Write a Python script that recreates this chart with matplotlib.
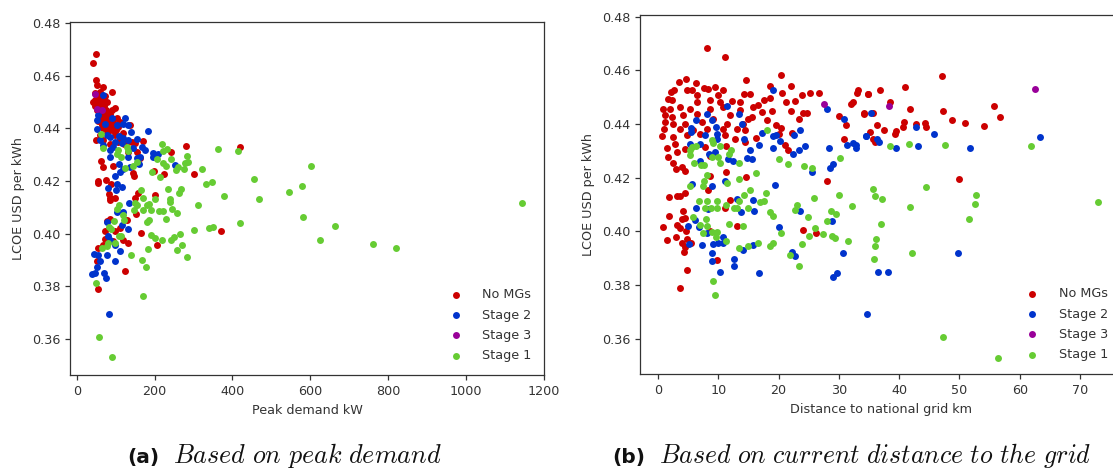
import matplotlib

matplotlib.use("Agg")
import matplotlib.pyplot as plt
import numpy as np

STAGE_LABELS = ["No MGs", "Stage 2", "Stage 3", "Stage 1"]
STAGE_COLORS = ["#cc0000", "#0033cc", "#990099", "#66cc33"]

# (peak demand kW, LCOE USD per kWh)
peak_no_mgs = [
    (49.3, .4682), (41.6, .4650), (49.3, .4584), (52.7, .4565), (68.1, .4557), (89.6, .4540), (46.7, .4534), (59.6, .4540),
    (63.9, .4518), (42.4, .4502), (76.7, .4502), (55.3, .4496), (68.1, .4477), (99.0, .4479), (59.6, .4464), (76.7, .4458),
    (81.0, .4439), (104.1, .4441), (63.9, .4426), (85.3, .4420), (68.1, .4401), (89.6, .4394), (49.3, .4356), (68.1, .4356),
    (98.1, .4375), (136.7, .4413), (170.9, .4352), (119.5, .4382), (76.7, .4382), (141.0, .4350), (242.0, .4312), (279.7, .4334),
    (420.2, .4331), (162.4, .4287), (61.3, .4276), (66.4, .4252), (93.8, .4257), (145.2, .4232), (147.8, .4221), (198.3, .4238),
    (224.0, .4226), (300.3, .4228), (53.6, .4200), (55.3, .4194), (74.1, .4205), (87.0, .4189), (81.8, .4150), (85.3, .4134),
    (98.1, .4134), (149.5, .4134), (158.1, .4153), (201.8, .4145), (51.0, .4470), (46.7, .4496), (55.3, .4515), (68.1, .4508),
    (72.4, .4445), (93.8, .4407), (59.6, .4445), (81.0, .4407), (128.1, .4344), (106.7, .4350), (153.8, .4312), (132.4, .4312),
    (52.0, .4520), (58.0, .4530), (50.0, .4505), (62.0, .4490), (70.0, .4485), (75.0, .4470), (48.0, .4485), (54.0, .4475),
    (65.0, .4460), (85.0, .4455), (92.0, .4425), (110.0, .4425), (65.0, .4415), (75.0, .4430), (55.0, .4430), (80.0, .4390),
    (100.0, .4395), (85.3, .4126), (152.1, .4075), (85.3, .4055), (76.7, .4046), (128.1, .4050), (111.0, .4020), (72.4, .4009),
    (164.9, .4003), (72.4, .3980), (98.1, .4008), (119.5, .3976), (132.4, .3966), (55.3, .3944), (68.1, .3957), (206.0, .3955),
    (371.3, .4009), (52.7, .3894), (123.8, .3857), (54.4, .3788), (93.8, .3970), (62.0, .4450), (90.0, .4470), (72.0, .4400),
    (105.0, .4405), (120.0, .4340), (60.0, .4375), (150.0, .4345), (48.0, .4510), (72.0, .4525), (110.0, .4360), (85.0, .4340),
]
peak_stage2 = [
    (66.4, .4526), (53.6, .4450), (52.7, .4432), (51.9, .4398), (71.6, .4416), (91.3, .4439), (123.8, .4439), (102.4, .4413),
    (117.8, .4416), (132.4, .4415), (140.1, .4387), (183.8, .4392), (85.3, .4367), (109.3, .4372), (119.5, .4363), (132.4, .4357),
    (155.5, .4358), (166.6, .4331), (175.2, .4318), (145.2, .4325), (115.3, .4344), (98.1, .4350), (76.7, .4375), (59.6, .4356),
    (68.1, .4337), (85.3, .4318), (93.8, .4331), (85.3, .4293), (132.4, .4293), (162.4, .4293), (159.8, .4266), (153.8, .4287),
    (109.3, .4265), (136.7, .4255), (119.5, .4245), (111.0, .4236), (98.1, .4219), (194.9, .4308), (209.5, .4303), (196.6, .4293),
    (252.3, .4261), (104.1, .4188), (115.3, .4176), (100.7, .4166), (79.3, .4173), (134.1, .4118), (102.4, .4084), (119.5, .4084),
    (115.3, .4033), (132.4, .4017), (76.7, .4043), (79.3, .3989), (85.3, .3976), (98.1, .3957), (111.0, .3933), (76.7, .3918),
    (44.2, .3923), (55.3, .3919), (59.6, .3894), (51.0, .3871), (98.1, .3896), (69.9, .3849), (74.1, .3830), (46.7, .3849),
    (39.9, .3846), (83.6, .3693),
]
peak_stage3 = [(45.9, .4530), (51.0, .4474), (65.6, .4469)]
peak_stage1 = [
    (218.9, .4340), (222.3, .4316), (230.9, .4321), (282.3, .4297), (286.6, .4274), (278.0, .4270), (241.2, .4282), (206.9, .4282),
    (220.6, .4270), (229.2, .4258), (260.9, .4255), (254.9, .4242), (275.4, .4246), (322.5, .4246), (363.6, .4322), (415.0, .4316),
    (602.6, .4256), (192.3, .4236), (213.8, .4217), (454.4, .4209), (332.0, .4188), (346.5, .4195), (577.7, .4180), (545.2, .4159),
    (378.2, .4143), (467.3, .4133), (233.5, .4169), (268.6, .4169), (263.4, .4156), (164.1, .4165), (169.2, .4137), (201.8, .4131),
    (240.3, .4133), (62.2, .4378), (66.4, .4326), (106.7, .4318), (113.5, .4290), (102.4, .4303), (128.1, .4331), (132.4, .4316),
    (155.5, .4273), (145.2, .4258), (123.8, .4250), (239.4, .4122), (312.3, .4108), (107.5, .4109), (104.1, .4093), (149.5, .4115),
    (155.5, .4109), (146.9, .4088), (169.2, .4088), (181.2, .4109), (186.3, .4113), (190.6, .4088), (211.2, .4086), (220.6, .4086),
    (243.7, .4094), (258.3, .4080), (229.2, .4056), (185.5, .4050), (181.2, .4045), (119.5, .4071), (121.2, .4052), (95.6, .4046),
    (83.6, .4024), (87.0, .4018), (418.5, .4039), (582.0, .4063), (302.0, .4014), (338.8, .4020), (349.0, .4024), (266.0, .3999),
    (250.6, .3988), (241.2, .3976), (218.9, .3974), (201.8, .3985), (189.8, .3995), (113.5, .3989), (109.3, .3991), (98.1, .3963),
    (79.3, .3963), (76.7, .3951), (63.9, .3944), (270.3, .3958), (258.3, .3937), (183.8, .3943), (282.3, .3911), (140.1, .3919),
    (167.5, .3898), (177.8, .3871), (49.3, .3813), (170.1, .3762), (57.0, .3606), (91.3, .3529), (1145.0, .4118), (820.0, .3945),
    (760.0, .3960), (663.0, .4027), (625.0, .3975),
]

# (distance to national grid km, LCOE USD per kWh)
dist_no_mgs = [
    (8.18, .4683), (11.06, .4651), (4.64, .4566), (3.48, .4556), (6.25, .4552), (14.6, .4562), (20.4, .4584), (18.5, .4541),
    (22.0, .4541), (20.6, .4516), (25.2, .4515), (26.7, .4516), (23.8, .4508), (22.7, .4487), (21.2, .4482), (14.3, .4512),
    (15.3, .4510), (13.6, .4480), (12.2, .4486), (10.8, .4526), (9.4, .4538), (8.35, .4532), (7.63, .4535), (2.71, .4528),
    (2.1, .4520), (4.75, .4526), (5.58, .4526), (6.41, .4507), (10.0, .4507), (10.3, .4482), (1.6, .4493), (2.27, .4488),
    (6.41, .4482), (8.62, .4488), (17.5, .4491), (16.6, .4472), (18.5, .4498), (15.8, .4463), (17.2, .4445), (18.85, .4450),
    (22.06, .4448), (24.1, .4442), (24.65, .4442), (.77, .4457), (2.0, .4457), (3.65, .4463), (5.3, .4457), (8.62, .4457),
    (10.84, .4463), (1.16, .4432), (2.27, .4426), (4.2, .4432), (6.41, .4438), (9.18, .4420), (11.94, .4432), (13.6, .4451),
    (15.5, .4426), (15.0, .4420), (18.0, .4414), (23.3, .4417), (1.16, .4407), (2.54, .4401), (4.48, .4401), (7.24, .4407),
    (11.4, .4401), (14.15, .4401), (19.5, .4397), (20.35, .4385), (1.05, .4382), (3.65, .4382), (5.86, .4376), (8.07, .4382),
    (10.84, .4382), (13.05, .4382), (14.4, .4376), (.72, .4356), (2.54, .4351), (4.75, .4357), (6.97, .4364), (11.1, .4357),
    (12.8, .4345), (16.2, .4347), (20.0, .4364), (22.3, .4367), (14.4, .4332), (1.55, .4312), (2.82, .4326), (4.48, .4307),
    (7.8, .4314), (11.3, .4316), (21.06, .4320), (21.6, .4301), (3.1, .4295), (1.71, .4276), (2.54, .4254), (2.93, .4231),
    (3.9, .4239), (4.48, .4226), (8.62, .4279), (11.2, .4221), (14.6, .4203), (8.62, .4205), (8.35, .4155), (30.07, .4429),
    (31.2, .4395), (30.85, .4345), (33.1, .4526), (32.95, .4516), (32.3, .4482), (31.95, .4476), (34.2, .4440), (34.8, .4512),
    (28.1, .4188), (1.77, .4127), (3.1, .4133), (3.65, .4133), (4.48, .4142), (11.94, .4118), (11.1, .4085), (4.15, .4074),
    (1.88, .4057), (4.48, .4049), (3.93, .4045), (3.1, .4023), (3.65, .4014), (.88, .4017), (4.59, .4002), (8.62, .4002),
    (13.16, .4021), (1.55, .3966), (2.93, .3978), (4.75, .3973), (4.04, .3956), (5.42, .3956), (4.48, .3942), (4.37, .3923),
    (9.84, .3893), (4.81, .3856), (3.65, .3787), (24.1, .4006), (26.2, .3993), (47.15, .4577), (41.0, .4537), (36.8, .4526),
    (34.9, .4512), (38.4, .4480), (41.85, .4457), (47.3, .4450), (55.8, .4468), (56.8, .4425), (48.8, .4413), (51.0, .4402),
    (54.1, .4391), (40.85, .4406), (40.7, .4389), (42.8, .4401), (44.2, .4403), (44.4, .4389), (36.4, .4395), (37.5, .4377),
    (39.4, .4375), (39.25, .4362), (35.2, .4370), (34.2, .4438), (35.6, .4442), (35.6, .4345), (36.0, .4332), (50.0, .4195),
]
dist_stage2 = [
    (19.1, .4527), (11.5, .4468), (8.07, .4438), (6.25, .4414), (8.9, .4416), (13.5, .4437), (14.0, .4399), (5.42, .4386),
    (5.47, .4370), (9.6, .4389), (9.73, .4364), (7.8, .4359), (9.73, .4345), (14.3, .4345), (17.2, .4367), (19.0, .4354),
    (19.57, .4360), (22.6, .4360), (23.5, .4377), (28.0, .4455), (30.85, .4417), (20.2, .4335), (16.7, .4322), (15.26, .4304),
    (19.1, .4310), (24.4, .4316), (23.4, .4301), (22.4, .4289), (28.3, .4309), (31.3, .4322), (32.3, .4329), (32.8, .4320),
    (32.8, .4309), (34.55, .4356), (5.3, .4326), (6.97, .4326), (8.5, .4289), (9.45, .4295), (11.66, .4268), (12.5, .4261),
    (14.7, .4273), (15.5, .4268), (6.97, .4261), (29.08, .4250), (28.5, .4236), (25.54, .4220), (19.4, .4173), (8.96, .4168),
    (11.1, .4189), (5.6, .4177), (13.05, .4120), (15.75, .4115), (13.8, .4072), (15.9, .4075), (6.25, .4087), (8.35, .4083),
    (6.08, .4042), (5.03, .4021), (6.86, .4017), (8.07, .3993), (20.07, .4017), (23.55, .4074), (28.9, .4039), (30.74, .3920),
    (22.3, .3923), (22.67, .3908), (5.14, .3952), (7.24, .3948), (9.18, .3954), (10.0, .3958), (10.84, .3977), (10.84, .3958),
    (14.15, .3932), (15.7, .3947), (9.0, .3918), (9.0, .3890), (12.55, .3897), (12.55, .3871), (10.3, .3850), (16.7, .3846),
    (29.7, .3846), (29.1, .3831), (34.66, .3693), (35.4, .4440), (42.8, .4389), (45.7, .4362), (34.55, .4355), (36.26, .4344),
    (36.65, .4334), (39.5, .4311), (43.1, .4319), (51.8, .4311), (63.4, .4351), (49.7, .3918), (36.5, .3850), (38.1, .3850),
]
dist_stage3 = [(27.5, .4475), (38.25, .4468), (62.6, .4529)]
dist_stage1 = [
    (18.0, .4377), (8.9, .4341), (9.07, .4329), (5.7, .4315), (6.25, .4316), (10.3, .4316), (12.1, .4301), (11.8, .4289),
    (5.3, .4301), (5.3, .4283), (6.0, .4256), (8.9, .4275), (10.0, .4276), (10.3, .4254), (13.5, .4256), (7.13, .4246),
    (7.7, .4246), (20.0, .4268), (21.5, .4250), (24.27, .4243), (25.54, .4234), (30.2, .4273), (8.07, .4210), (7.63, .4189),
    (7.4, .4170), (5.3, .4170), (11.5, .4180), (13.5, .4195), (16.2, .4216), (15.26, .4155), (14.3, .4134), (17.9, .4144),
    (30.07, .4134), (25.9, .4124), (6.86, .4114), (8.18, .4112), (9.84, .4112), (11.2, .4099), (13.5, .4112), (17.6, .4114),
    (16.9, .4108), (12.6, .4087), (13.05, .4087), (15.0, .4087), (7.8, .4087), (8.8, .4087), (9.73, .4087), (5.86, .4052),
    (8.0, .4045), (6.97, .4024), (8.18, .4020), (7.5, .3993), (11.83, .4028), (14.1, .4021), (8.9, .3999), (9.84, .3996),
    (9.6, .3977), (11.2, .3962), (13.5, .3937), (15.0, .3944), (16.5, .3958), (18.6, .3944), (19.0, .3958), (18.5, .4072),
    (19.1, .4058), (20.4, .3992), (23.0, .4097), (22.7, .4079), (24.8, .4053), (26.04, .4014), (25.1, .3984), (27.3, .3988),
    (23.94, .3952), (21.9, .3911), (23.4, .3871), (28.75, .4077), (29.6, .4064), (28.0, .4039), (28.9, .3984), (29.4, .3974),
    (31.57, .3962), (32.1, .4094), (9.18, .3813), (9.45, .3761), (38.4, .4319), (41.7, .4326), (47.6, .4321), (61.9, .4319),
    (35.7, .4159), (36.0, .4130), (37.15, .4119), (44.5, .4165), (52.7, .4137), (52.6, .4100), (51.5, .4046), (41.8, .4089),
    (73.0, .4108), (37.0, .4027), (36.15, .3973), (36.0, .3945), (35.8, .3897), (42.1, .3918), (47.3, .3605), (56.4, .3529),
]

lcoe_ticks = [0.36, 0.38, 0.40, 0.42, 0.44, 0.46, 0.48]
peak_ticks = [0, 200, 400, 600, 800, 1000, 1200]
dist_ticks = [0, 10, 20, 30, 40, 50, 60, 70]

WIDTH, HEIGHT = 1113, 469
TEXT_COLOR = "#333333"


def make_axes(fig, left, right, top, bottom):
    return fig.add_axes([left / WIDTH, 1 - bottom / HEIGHT, (right - left) / WIDTH, (bottom - top) / HEIGHT])


def draw_panel(ax, groups, xlabel, xticks, xlim, ylim):
    for points, label, color in zip(groups, STAGE_LABELS, STAGE_COLORS):
        x, y = np.array(points).T
        ax.scatter(x, y, s=25, color=color, label=label, linewidths=0)
    ax.set_xlim(xlim)
    ax.set_ylim(ylim)
    ax.set_xticks(xticks)
    ax.set_yticks(lcoe_ticks)
    ax.set_yticklabels([f"{t:.2f}" for t in lcoe_ticks])
    ax.set_xlabel(xlabel, fontsize=9.15, color=TEXT_COLOR, labelpad=4.2)
    ax.set_ylabel("LCOE USD per kWh", fontsize=9.15, color=TEXT_COLOR, labelpad=5.2)
    ax.tick_params(labelsize=9.15, labelcolor=TEXT_COLOR, length=3.5, width=0.9, color="#333333")
    for spine in ax.spines.values():
        spine.set_linewidth(0.9)
        spine.set_color("#333333")
    ax.legend(
        loc="lower right", frameon=False, fontsize=9.15, labelcolor=TEXT_COLOR, labelspacing=0.57, handletextpad=1.07,
        borderaxespad=0.62, scatterpoints=1,
    )


plt.rcParams["mathtext.fontset"] = "cm"
fig = plt.figure(figsize=(WIDTH / 100, HEIGHT / 100), dpi=100)

ax_a = make_axes(fig, 70.4, 544.3, 22, 375)
draw_panel(ax_a, [peak_no_mgs, peak_stage2, peak_stage3, peak_stage1], "Peak demand kW", peak_ticks, (-16.5, 1201.5), (0.3462, 0.4805))

ax_b = make_axes(fig, 640.3, 1121, 15, 374)
draw_panel(ax_b, [dist_no_mgs, dist_stage2, dist_stage3, dist_stage1], "Distance to national grid km", dist_ticks, (-2.95, 76.8), (0.3468, 0.4806))

fig.text(127 / WIDTH, 1 - 463 / HEIGHT, "(a)", fontsize=14.5, fontweight="bold", family="DejaVu Sans", color="#111111")
fig.text(173 / WIDTH, 1 - 463 / HEIGHT, r"$\mathit{Based\ on\ peak\ demand}$", fontsize=18.8, color="#111111")
fig.text(612 / WIDTH, 1 - 463 / HEIGHT, "(b)", fontsize=14.5, fontweight="bold", family="DejaVu Sans", color="#111111")
fig.text(659 / WIDTH, 1 - 463 / HEIGHT, r"$\mathit{Based\ on\ current\ distance\ to\ the\ grid}$", fontsize=18.6, color="#111111")

fig.savefig("out.png", dpi=100)
